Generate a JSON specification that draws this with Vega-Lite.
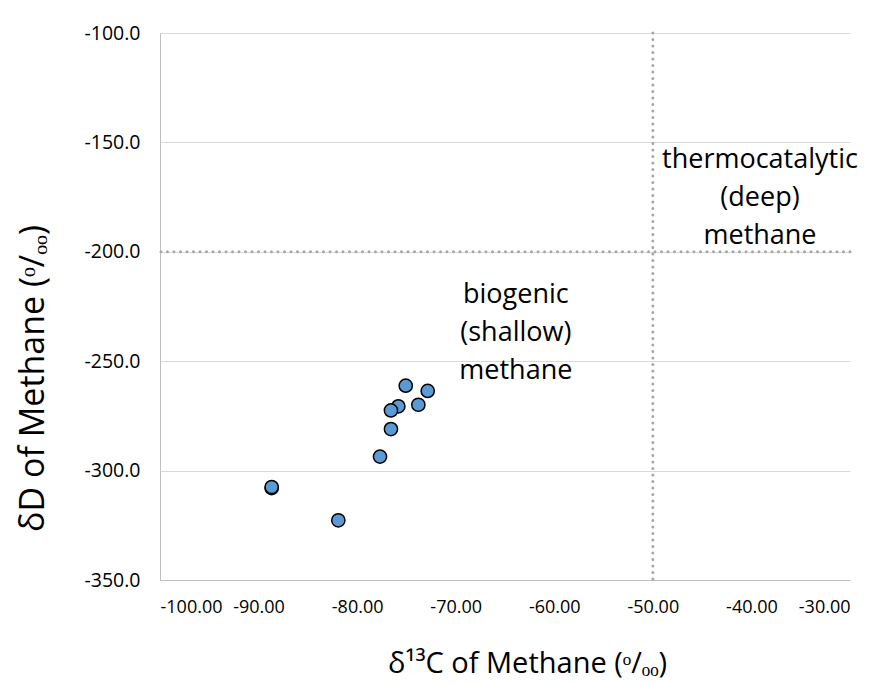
{
  "$schema": "https://vega.github.io/schema/vega-lite/v6.json",
  "width": 690,
  "height": 547,
  "autosize": "none",
  "padding": {"left": 160, "top": 33, "right": 38, "bottom": 105},
  "background": "white",
  "config": {
    "view": {"stroke": null},
    "font": "Open Sans",
    "axis": {
      "labelFont": "Open Sans",
      "titleFont": "Open Sans",
      "labelColor": "#000000",
      "titleColor": "#000000",
      "titleFontWeight": "normal",
      "ticks": false,
      "domainColor": "#bfbfbf",
      "gridColor": "#d9d9d9",
      "gridWidth": 1,
      "labelOverlap": false
    }
  },
  "layer": [
    {
      "data": {"values": [{"d13C": -50}]},
      "mark": {"type": "rule", "color": "#a6a6a6", "strokeWidth": 3, "strokeDash": [0, 6.5], "strokeCap": "round"},
      "encoding": {"x": {"field": "d13C", "type": "quantitative", "scale": {"domain": [-100, -30]}}}
    },
    {
      "data": {"values": [{"dD": -200}]},
      "mark": {"type": "rule", "color": "#a6a6a6", "strokeWidth": 3, "strokeDash": [0, 6.5], "strokeCap": "round"},
      "encoding": {"y": {"field": "dD", "type": "quantitative", "scale": {"domain": [-350, -100]}}}
    },
    {
      "data": {"values": [
        {"d13C": -75.07, "dD": -261.2},
        {"d13C": -72.84, "dD": -263.6},
        {"d13C": -75.82, "dD": -270.6},
        {"d13C": -73.79, "dD": -269.9},
        {"d13C": -76.57, "dD": -272.5},
        {"d13C": -76.57, "dD": -281.0},
        {"d13C": -77.68, "dD": -293.6},
        {"d13C": -88.67, "dD": -308.0},
        {"d13C": -88.67, "dD": -307.5},
        {"d13C": -81.91, "dD": -322.7}
      ]},
      "mark": {"type": "point", "shape": "circle", "filled": true, "fill": "#5b9bd5", "stroke": "#000000", "strokeWidth": 1.5, "opacity": 1, "size": 175},
      "encoding": {
        "x": {
          "field": "d13C", "type": "quantitative",
          "scale": {"domain": [-100, -30], "nice": false, "zero": false},
          "axis": {
            "values": [-100, -90, -80, -70, -60, -50, -40, -30],
            "labelExpr": "replace(format(datum.value, '.2f'), '−', '-')",
            "grid": false,
            "labelFontSize": 18,
            "labelPadding": 18,
            "title": "δ¹³C of Methane (ᵒ/ₒₒ)",
            "titleFontSize": 29,
            "titleBaseline": "middle",
            "titleX": 367,
            "titleY": 83
          }
        },
        "y": {
          "field": "dD", "type": "quantitative",
          "scale": {"domain": [-350, -100], "nice": false, "zero": false},
          "axis": {
            "values": [-350, -300, -250, -200, -150, -100],
            "labelExpr": "replace(format(datum.value, '.1f'), '−', '-')",
            "grid": true,
            "labelFontSize": 19.5,
            "labelPadding": 20,
            "title": "δD of Methane (ᵒ/ₒₒ)",
            "titleFontSize": 34,
            "titleBaseline": "middle",
            "titleX": -127,
            "titleY": 345
          }
        }
      }
    },
    {
      "data": {"values": [
        {"d13C": -39.13, "dD": -158.0, "label": "thermocatalytic\n(deep)\nmethane"},
        {"d13C": -63.9, "dD": -219.6, "label": "biogenic\n(shallow)\nmethane"}
      ]},
      "mark": {"type": "text", "lineBreak": "\n", "fontSize": 27, "lineHeight": 38, "align": "center", "baseline": "middle", "color": "#000000", "font": "Open Sans"},
      "encoding": {
        "x": {"field": "d13C", "type": "quantitative"},
        "y": {"field": "dD", "type": "quantitative"},
        "text": {"field": "label"}
      }
    }
  ]
}
